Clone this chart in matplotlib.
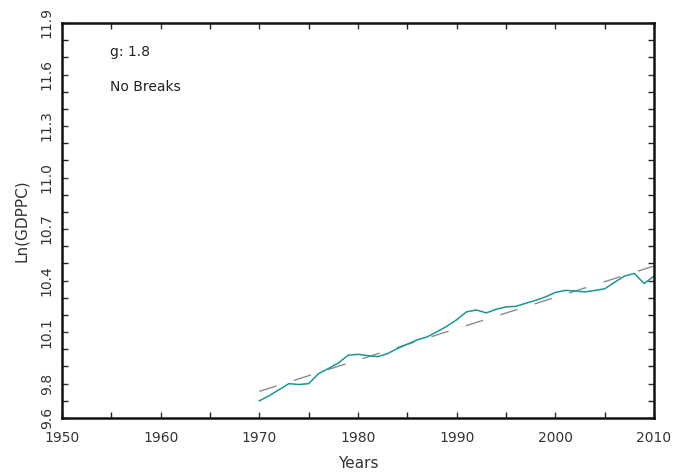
import matplotlib
matplotlib.use("Agg")
import matplotlib.pyplot as plt
import numpy as np

years = list(range(1970, 2011))
ln_gdppc = [9.700, 9.730, 9.765, 9.800, 9.795, 9.800, 9.858, 9.888, 9.920, 9.965,
            9.971, 9.963, 9.957, 9.975, 10.005, 10.030, 10.055, 10.072, 10.102, 10.134,
            10.172, 10.218, 10.229, 10.212, 10.233, 10.247, 10.250, 10.268, 10.285, 10.305,
            10.331, 10.343, 10.340, 10.334, 10.343, 10.352, 10.390, 10.426, 10.442, 10.383,
            10.426]
trend_years = [1970, 2010]
trend_vals = [9.755, 10.485]

xticks = [1950, 1960, 1970, 1980, 1990, 2000, 2010]
yticks = [9.6, 9.8, 10.1, 10.4, 10.7, 11.0, 11.3, 11.6, 11.9]
ytick_labels = ["9.6", "9.8", "10.1", "10.4", "10.7", "11.0", "11.3", "11.6", "11.9"]

plt.rcParams['font.family'] = ['DejaVu Sans']
fig = plt.figure(figsize=(6.75, 4.74), dpi=100)
ax = fig.add_axes([62/675, 1-418/474, (654-62)/675, (418-23)/474])

ax.plot(trend_years, trend_vals, color='#8c8c8c', lw=1.0, dashes=(13, 13))
ax.plot(years, ln_gdppc, color='#1a9696', lw=1.1)

ax.set_xlim(1950, 2010)
ax.set_ylim(9.6, 11.9)
ax.set_xticks(xticks)
ax.set_xticks(np.arange(1955, 2010, 10), minor=True)
ax.set_yticks(yticks)
ax.set_yticklabels(ytick_labels, rotation=90, va='center')
ax.set_yticks(np.arange(9.7, 11.85, 0.1), minor=True)

ax.tick_params(which='both', direction='in', top=True, right=True, color='#222222')
ax.tick_params(which='major', length=4.5, width=1)
ax.tick_params(which='minor', length=4, width=1)
ax.tick_params(axis='x', labelsize=10, pad=9, colors='#333333')
ax.tick_params(axis='y', labelsize=10, pad=6, colors='#333333')
for s in ax.spines.values():
    s.set_linewidth(1.8)
    s.set_color('#111111')

ax.set_xlabel('Years', fontsize=11, color='#333333', labelpad=8)
ax.set_ylabel('Ln(GDPPC)', fontsize=11, color='#333333', labelpad=8)

fig.text(110/675, 1-52/474, 'g: 1.8', fontsize=10, color='#222222', va='center')
fig.text(110/675, 1-87/474, 'No Breaks', fontsize=10, color='#222222', va='center')

fig.savefig('out.png', dpi=100, facecolor='white')
